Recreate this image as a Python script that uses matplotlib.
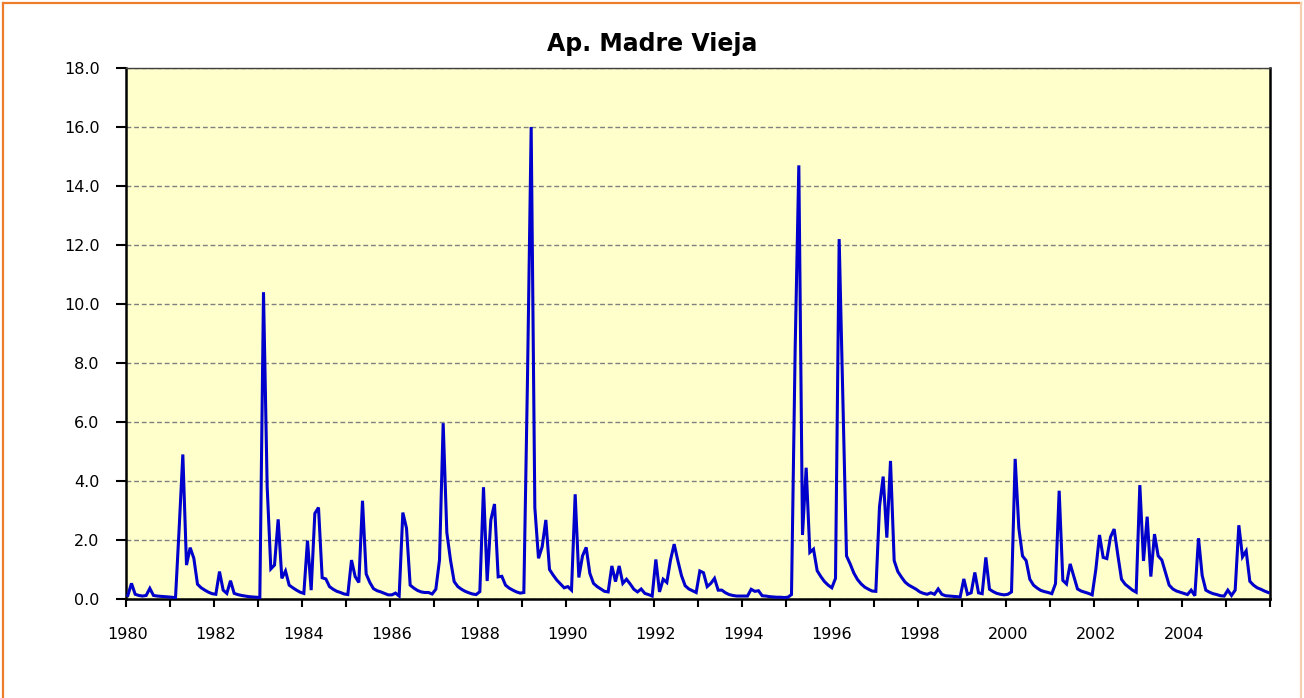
import numpy as np
import matplotlib
matplotlib.use('Agg')
import matplotlib.pyplot as plt
from matplotlib.lines import Line2D

# caudal medio mensual (m3/s), enero 1980 - diciembre 2005
caudal_1980s = [
    0.12, 0.53, 0.16, 0.12, 0.10, 0.12, 0.36, 0.12, 0.10, 0.09, 0.08, 0.07,
    0.06, 0.04, 2.40, 4.90, 1.15, 1.74, 1.38, 0.50, 0.38, 0.30, 0.23, 0.18,
    0.16, 0.93, 0.30, 0.19, 0.62, 0.19, 0.15, 0.12, 0.10, 0.08, 0.07, 0.06,
    0.05, 10.4, 3.80, 1.02, 1.15, 2.70, 0.70, 0.95, 0.47, 0.38, 0.30, 0.23,
    0.19, 1.98, 0.30, 2.90, 3.10, 0.72, 0.68, 0.42, 0.33, 0.26, 0.22, 0.17,
    0.15, 1.32, 0.76, 0.56, 3.33, 0.85, 0.56, 0.35, 0.28, 0.24, 0.19, 0.14,
    0.14, 0.20, 0.10, 2.93, 2.40, 0.47, 0.37, 0.29, 0.24, 0.22, 0.22, 0.17,
    0.33, 1.32, 5.96, 2.25, 1.32, 0.59, 0.42, 0.33, 0.26, 0.21, 0.17, 0.15,
    0.25, 3.79, 0.61, 2.68, 3.22, 0.75, 0.77, 0.47, 0.37, 0.30, 0.24, 0.20,
    0.22, 7.50, 16.0, 3.10, 1.38, 1.77, 2.68, 1.00, 0.81, 0.64, 0.51, 0.38,
]
caudal_1990s = [
    0.42, 0.30, 3.55, 0.73, 1.46, 1.75, 0.87, 0.53, 0.42, 0.34, 0.26, 0.24,
    1.12, 0.59, 1.12, 0.53, 0.67, 0.51, 0.33, 0.24, 0.34, 0.19, 0.15, 0.10,
    1.34, 0.24, 0.67, 0.56, 1.32, 1.86, 1.30, 0.79, 0.45, 0.34, 0.28, 0.22,
    0.95, 0.89, 0.42, 0.53, 0.70, 0.30, 0.30, 0.21, 0.15, 0.12, 0.10, 0.10,
    0.10, 0.10, 0.33, 0.26, 0.28, 0.11, 0.10, 0.08, 0.07, 0.06, 0.06, 0.05,
    0.06, 0.15, 8.50, 14.7, 2.17, 4.45, 1.58, 1.69, 0.96, 0.76, 0.59, 0.47,
    0.38, 0.70, 12.2, 6.80, 1.46, 1.19, 0.88, 0.66, 0.51, 0.40, 0.33, 0.27,
    0.26, 3.13, 4.15, 2.08, 4.68, 1.30, 0.93, 0.74, 0.57, 0.47, 0.40, 0.33,
    0.24, 0.19, 0.16, 0.21, 0.16, 0.34, 0.16, 0.11, 0.10, 0.09, 0.08, 0.07,
    0.68, 0.16, 0.21, 0.90, 0.21, 0.18, 1.41, 0.33, 0.25, 0.19, 0.16, 0.14,
]
caudal_2000s = [
    0.16, 0.24, 4.75, 2.40, 1.46, 1.30, 0.67, 0.47, 0.37, 0.29, 0.25, 0.22,
    0.18, 0.52, 3.67, 0.63, 0.51, 1.19, 0.76, 0.34, 0.27, 0.23, 0.19, 0.14,
    1.00, 2.17, 1.41, 1.37, 2.10, 2.37, 1.49, 0.67, 0.50, 0.40, 0.30, 0.23,
    3.86, 1.29, 2.79, 0.76, 2.20, 1.46, 1.32, 0.89, 0.47, 0.34, 0.27, 0.23,
    0.19, 0.15, 0.30, 0.11, 2.06, 0.80, 0.30, 0.23, 0.18, 0.15, 0.11, 0.10,
    0.30, 0.12, 0.30, 2.50, 1.43, 1.63, 0.60, 0.47, 0.38, 0.33, 0.27, 0.22,
]
anios = list(range(1980, 2006))
etiquetas = [str(a) for a in anios[::2]]

caudal = np.array(caudal_1980s + caudal_1990s + caudal_2000s)
meses = np.arange(len(caudal))

plt.rcParams['font.family'] = ['DejaVu Sans']

W, H = 1304, 698
fig = plt.figure(figsize=(W / 100, H / 100), dpi=100)
fig.patch.set_facecolor('white')

# marco naranja del grafico
naranja = '#EE7D2B'
fig.add_artist(Line2D([3 / W, 1301 / W], [1 - 3 / H, 1 - 3 / H], color=naranja, lw=1.6))
fig.add_artist(Line2D([3 / W, 3 / W], [0, 1 - 3 / H], color=naranja, lw=1.6))
fig.add_artist(Line2D([1301 / W, 1301 / W], [0, 1 - 3 / H], color='#F6CFAE', lw=1.6))

ax = fig.add_axes([126 / W, 99 / H, (1270 - 126) / W, (599 - 68) / H])
ax.set_facecolor('#FFFFCC')

ax.plot(meses, caudal, color='#0000CC', lw=2.2, solid_joinstyle='miter', zorder=3)

ax.set_xlim(-0.5, len(caudal) - 0.5)
ax.set_ylim(0, 18)

ax.set_yticks(np.arange(0, 19, 2))
ax.set_yticklabels([f'{v:.1f}' for v in np.arange(0, 19, 2)])
ax.yaxis.grid(True, color='#808080', lw=1.0, linestyle=(0, (3.5, 2)))
ax.set_axisbelow(True)

# marcas en el cambio de anio, etiquetas en enero de los anios pares
ax.set_xticks(np.arange(-0.5, len(caudal), 12))
ax.set_xticklabels([])
ax.set_xticks(np.arange(0, len(caudal), 24), minor=True)
ax.set_xticklabels(etiquetas, minor=True)

ax.tick_params(axis='y', direction='out', length=7, width=1.5, pad=12,
               labelsize=11.5, color='black')
ax.tick_params(axis='x', which='major', direction='out', length=6, width=1.5)
ax.tick_params(axis='x', which='minor', length=0, pad=20, labelsize=11.5)

for lado in ['left', 'bottom', 'right']:
    ax.spines[lado].set_linewidth(1.8)
    ax.spines[lado].set_color('black')
ax.spines['top'].set_linewidth(1.0)
ax.spines['top'].set_color('#404040')

fig.text(652 / W, 1 - 50.7 / H, 'Ap. Madre Vieja', ha='center', va='baseline',
         fontsize=17, fontweight='bold')

fig.savefig('out.png', dpi=100)
